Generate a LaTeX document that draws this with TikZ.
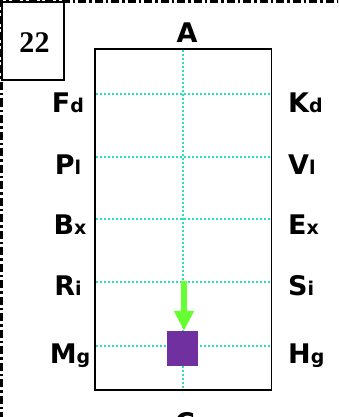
\documentclass[tikz,border=0pt]{standalone}
\usepackage{fontspec}
\setmainfont{DejaVu Sans}
\newfontfamily\numfont{Liberation Serif}
\usetikzlibrary{arrows.meta}
\definecolor{gridc}{RGB}{40,225,185}
\definecolor{purp}{RGB}{112,48,160}
\definecolor{limeg}{RGB}{102,255,51}
\newcommand\lsub[1]{{\fontsize{19}{19}\selectfont #1}}
\begin{document}
\begin{tikzpicture}[x=1pt,y=-1pt,
  lab/.style={font=\fontsize{27}{27}\selectfont\bfseries, inner sep=0pt},
  leftlab/.style={lab, anchor=base},
  rightlab/.style={lab, anchor=base west},
  gridline/.style={draw=gridc, line width=1.4pt, dash pattern=on 2.5pt off 1.5pt},
  border/.style={line width=3pt, dash pattern=on 8pt off 3pt on 2.5pt off 3pt},
  numbox/.style={draw, line width=2pt, fill=white, minimum width=62pt, minimum height=78pt, inner sep=0pt},
  frame/.style={draw, line width=1.4pt},
  block/.style={fill=purp, minimum width=31pt, minimum height=35pt, inner sep=0pt},
  force/.style={limeg, line width=6pt, -{Triangle[width=19pt,length=20pt]}}
]
\useasboundingbox (0,0) rectangle (338,417);
\clip (0,0) rectangle (338,417);
% outer dash-dot border (top and left visible)
\draw[border] (1.5,420) -- (1.5,1.5) -- (340,1.5);
% main frame
\node[frame, minimum width=176.5pt, minimum height=341pt, inner sep=0pt] (fr) at (183.25,219.5) {};
% grid
\foreach \yy in {94,157,219,282,346}
  \draw[gridline] (95.7,\yy) -- (270.8,\yy);
\draw[gridline] (183,49.7) -- (183,389.3);
% number box
\node[numbox] (nb) at (33,41.5) {};
\node[font=\fontsize{30}{30}\selectfont\numfont\bfseries, inner sep=0pt, anchor=base] (num) at (34.5,52.5) {22};
% top/bottom labels
\node[leftlab] (la) at (187,43) {A};
\node[leftlab] (lc) at (185,432) {C};
% left labels
\node[leftlab] (l1) at (68,113) {F\lsub{d}};
\node[leftlab] (l2) at (68,174) {P\lsub{l}};
\node[leftlab] (l3) at (70,234) {B\lsub{x}};
\node[leftlab] (l4) at (68,295) {R\lsub{i}};
\node[leftlab] (l5) at (70,363) {M\lsub{g}};
% right labels
\node[rightlab] (r1) at (288,113) {K\lsub{d}};
\node[rightlab] (r2) at (288,174) {V\lsub{l}};
\node[rightlab] (r3) at (288,234) {E\lsub{x}};
\node[rightlab] (r4) at (288,295) {S\lsub{i}};
\node[rightlab] (r5) at (288,363) {H\lsub{g}};
% block and arrow
\node[block] (sq) at (182.5,348.5) {};
\coordinate (fstart) at (184,281);
\draw[force] (fstart) -- (fstart |- sq.north);
\end{tikzpicture}
\end{document}
